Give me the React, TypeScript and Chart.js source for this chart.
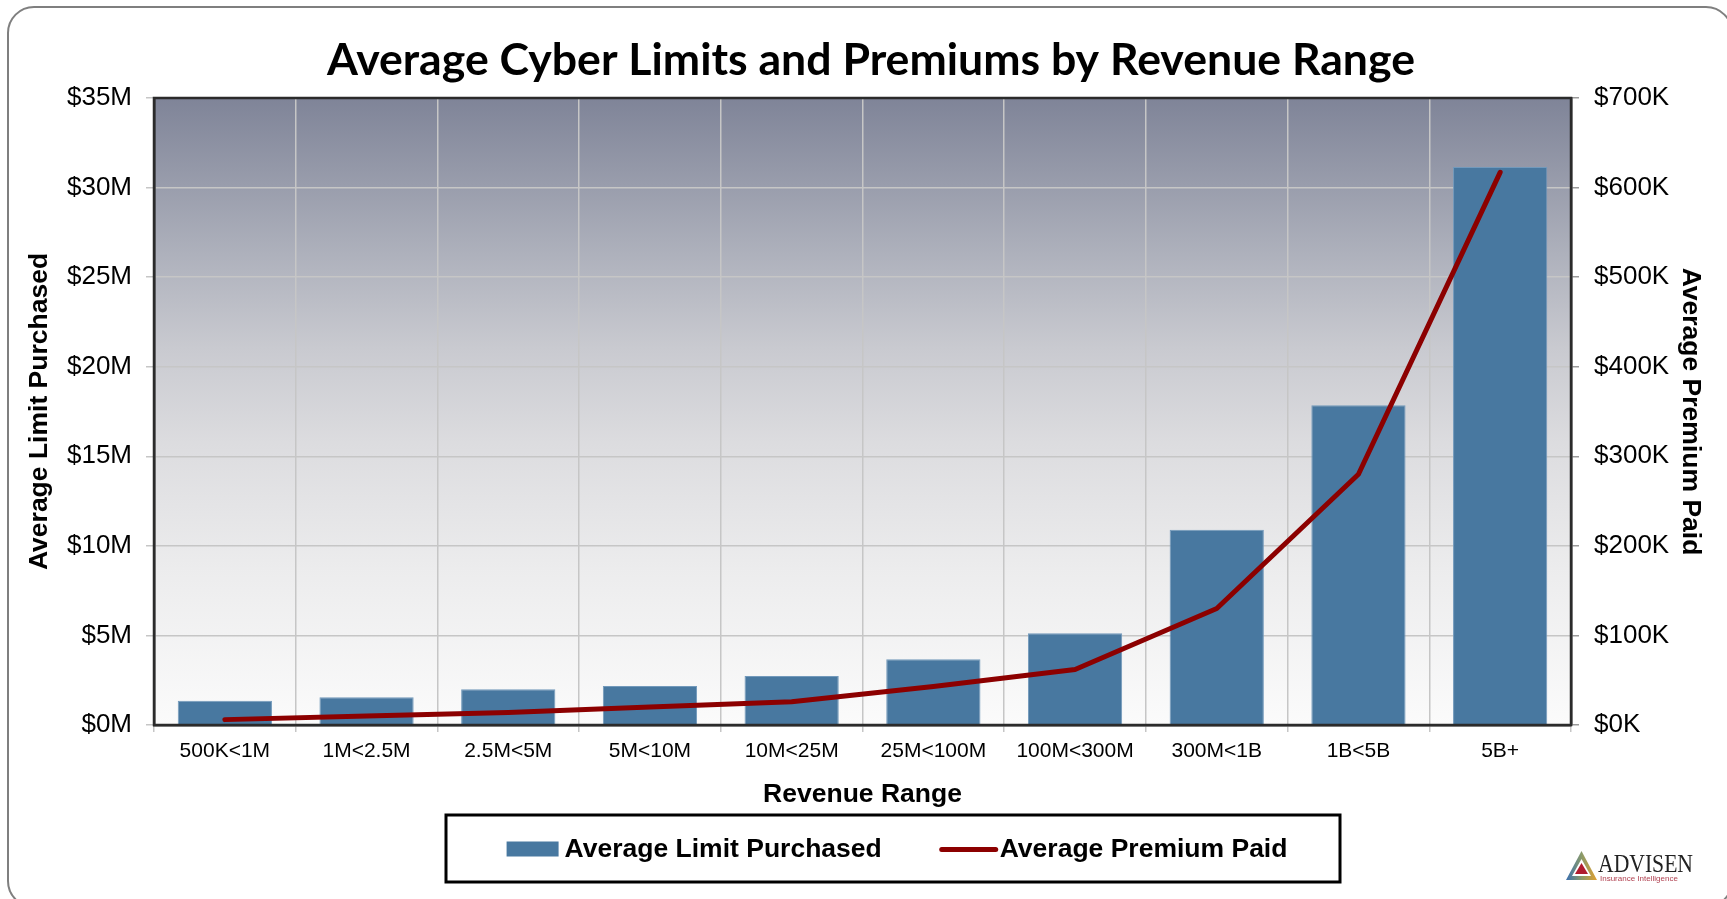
import React, { useEffect, useRef } from 'react';
import { Chart, registerables } from 'chart.js';

Chart.register(...registerables);

// ---- data ----
const categories = ['500K<1M', '1M<2.5M', '2.5M<5M', '5M<10M', '10M<25M', '25M<100M', '100M<300M', '300M<1B', '1B<5B', '5B+'];
const avgLimitMillions = [1.36, 1.55, 1.99, 2.18, 2.74, 3.67, 5.12, 10.9, 17.85, 31.15];
const avgPremiumThousands = [6, 10, 14, 20, 26, 43, 62, 130, 280, 617];
const chartTitle = 'Average Cyber Limits and Premiums by Revenue Range';
const leftAxisTitle = 'Average Limit Purchased';
const rightAxisTitle = 'Average Premium Paid';
const xAxisTitle = 'Revenue Range';
const seriesNames = ['Average Limit Purchased', 'Average Premium Paid'];
const logoName = 'ADVISEN';
const logoTag = 'Insurance Intelligence';

const W = 1727;
const H = 899;
const BAR_COLOR = '#4878a0';
const LINE_COLOR = '#8c0000';
const BOLD_FONT = '"Liberation Sans", Arial, sans-serif';

function roundRectPath(ctx: CanvasRenderingContext2D, x: number, y: number, w: number, h: number, r: number) {
  ctx.beginPath();
  ctx.moveTo(x + r, y);
  ctx.lineTo(x + w - r, y);
  ctx.arcTo(x + w, y, x + w, y + r, r);
  ctx.lineTo(x + w, y + h - r);
  ctx.arcTo(x + w, y + h, x + w - r, y + h, r);
  ctx.lineTo(x + r, y + h);
  ctx.arcTo(x, y + h, x, y + h - r, r);
  ctx.lineTo(x, y + r);
  ctx.arcTo(x, y, x + r, y, r);
  ctx.closePath();
}

const decorPlugin = {
  id: 'decor',
  beforeDraw(chart: any) {
    const { ctx, chartArea: a } = chart;
    ctx.save();
    ctx.fillStyle = '#ffffff';
    ctx.fillRect(0, 0, chart.width, chart.height);
    // outer rounded frame
    roundRectPath(ctx, 8, 7, 1724, 900, 26);
    ctx.lineWidth = 2;
    ctx.strokeStyle = '#7f7f7f';
    ctx.stroke();
    // plot gradient
    const g = ctx.createLinearGradient(0, a.top, 0, a.bottom);
    g.addColorStop(0, '#7f8498');
    g.addColorStop(0.25, '#aeb1bc');
    g.addColorStop(0.4, '#c9cad0');
    g.addColorStop(0.55, '#dcdcdf');
    g.addColorStop(0.75, '#ececed');
    g.addColorStop(1, '#fbfbfb');
    ctx.fillStyle = g;
    ctx.fillRect(a.left, a.top, a.right - a.left, a.bottom - a.top);
    ctx.restore();
  },
  afterDatasetsDraw(chart: any) {
    const { ctx, chartArea: a } = chart;
    ctx.save();
    ctx.lineWidth = 2.5;
    ctx.strokeStyle = '#2b2b2b';
    ctx.strokeRect(a.left, a.top, a.right - a.left, a.bottom - a.top);
    ctx.restore();
  },
  afterDraw(chart: any) {
    const { ctx } = chart;
    ctx.save();
    // title
    ctx.font = 'bold 100px Lato, "Open Sans", sans-serif';
    const tw = ctx.measureText(chartTitle).width;
    const size = (100 * 1088) / tw;
    ctx.font = `bold ${size.toFixed(2)}px Lato, "Open Sans", sans-serif`;
    ctx.fillStyle = '#000';
    ctx.textAlign = 'center';
    ctx.textBaseline = 'alphabetic';
    ctx.fillText(chartTitle, 871, 75);

    // legend
    const ds = chart.data.datasets;
    const barDs = ds.find((d: any) => d.type === 'bar');
    const lineDs = ds.find((d: any) => d.type === 'line');
    const bx = 446, by = 815, bw = 894, bh = 67;
    ctx.lineWidth = 3;
    ctx.strokeStyle = '#000';
    ctx.strokeRect(bx, by, bw, bh);
    ctx.font = `bold 26.5px ${BOLD_FONT}`;
    ctx.textAlign = 'left';
    ctx.textBaseline = 'middle';
    const cy = by + bh / 2 + 1;
    const t1 = ctx.measureText(barDs.label).width;
    const t2 = ctx.measureText(lineDs.label).width;
    const total = 52 + 6 + t1 + 58 + 58 + 2 + t2;
    let x = 897 - total / 2;
    ctx.fillStyle = barDs.backgroundColor;
    ctx.fillRect(x, cy - 8, 52, 15);
    x += 58;
    ctx.fillStyle = '#000';
    ctx.fillText(barDs.label, x, cy);
    x += t1 + 58;
    ctx.strokeStyle = lineDs.borderColor;
    ctx.lineWidth = 5;
    ctx.lineCap = 'round';
    ctx.beginPath();
    ctx.moveTo(x + 2, cy);
    ctx.lineTo(x + 56, cy);
    ctx.stroke();
    x += 60;
    ctx.fillStyle = '#000';
    ctx.fillText(lineDs.label, x, cy);

    // logo
    const lx = 1566, ly = 851;
    const tg = ctx.createLinearGradient(lx, 0, lx + 31, 0);
    tg.addColorStop(0, '#3a6fb0');
    tg.addColorStop(0.5, '#8a9a6a');
    tg.addColorStop(1, '#e0a030');
    ctx.fillStyle = tg;
    ctx.beginPath();
    ctx.moveTo(lx + 15.5, ly);
    ctx.lineTo(lx + 31, ly + 29);
    ctx.lineTo(lx, ly + 29);
    ctx.closePath();
    ctx.fill();
    ctx.fillStyle = '#ffffff';
    ctx.beginPath();
    ctx.moveTo(lx + 15.5, ly + 8);
    ctx.lineTo(lx + 25, ly + 25);
    ctx.lineTo(lx + 6, ly + 25);
    ctx.closePath();
    ctx.fill();
    ctx.fillStyle = '#b01c2e';
    ctx.beginPath();
    ctx.moveTo(lx + 15.5, ly + 12);
    ctx.lineTo(lx + 22, ly + 23);
    ctx.lineTo(lx + 9, ly + 23);
    ctx.closePath();
    ctx.fill();
    ctx.font = '26px "Liberation Serif", serif';
    const lw = ctx.measureText(logoName).width;
    ctx.textBaseline = 'alphabetic';
    ctx.fillStyle = '#222';
    ctx.save();
    ctx.translate(1598, 872);
    ctx.scale(95 / lw, 1);
    ctx.fillText(logoName, 0, 0);
    ctx.restore();
    ctx.font = '8px "Liberation Sans", sans-serif';
    ctx.fillStyle = '#b04050';
    ctx.fillText(logoTag, 1600, 881);
    ctx.restore();
  },
};

export default function App() {
  const canvasRef = useRef<HTMLCanvasElement | null>(null);

  useEffect(() => {
    const canvas = canvasRef.current;
    if (!canvas) return;
    const chart = new Chart(canvas, {
      type: 'bar',
      data: {
        labels: categories,
        datasets: [
          {
            type: 'bar',
            label: seriesNames[0],
            data: avgLimitMillions,
            yAxisID: 'y',
            backgroundColor: BAR_COLOR,
            borderColor: '#7299bb',
            borderWidth: 1,
            categoryPercentage: 1,
            barPercentage: 0.665,
            order: 1,
          } as any,
          {
            type: 'line',
            label: seriesNames[1],
            data: avgPremiumThousands,
            yAxisID: 'y1',
            borderColor: LINE_COLOR,
            backgroundColor: LINE_COLOR,
            borderWidth: 5,
            pointRadius: 0,
            tension: 0,
            borderCapStyle: 'round',
            borderJoinStyle: 'round',
            order: 0,
          } as any,
        ],
      },
      options: {
        responsive: false,
        animation: false,
        devicePixelRatio: 1,
        layout: { padding: { top: 98, left: 0, right: 0, bottom: 84 } },
        plugins: {
          legend: { display: false },
          title: { display: false },
          tooltip: { enabled: false },
        },
        scales: {
          x: {
            offset: true,
            grid: {
              offset: true,
              color: '#c6c6c6',
              lineWidth: 1.5,
              tickLength: 7,
              drawTicks: true,
            },
            border: { display: true, color: '#2b2b2b', width: 2.5 },
            ticks: {
              color: '#000',
              padding: 7,
              font: { family: '"Liberation Sans", Arial, sans-serif', size: 21 },
              maxRotation: 0,
              autoSkip: false,
            },
            title: {
              display: true,
              text: xAxisTitle,
              color: '#000',
              font: { family: BOLD_FONT, size: 26.5, weight: 'bold' },
              padding: { top: 0, bottom: 4 },
            },
            afterFit: (s: any) => {
              s.height = 90;
            },
          },
          y: {
            position: 'left',
            min: 0,
            max: 35,
            ticks: {
              stepSize: 5,
              color: '#000',
              padding: 14,
              font: { family: '"Liberation Sans", Arial, sans-serif', size: 26 },
              callback: (v: any) => `$${v}M`,
            },
            grid: { color: '#c6c6c6', lineWidth: 1.5, tickLength: 8 },
            border: { display: true, color: '#2b2b2b', width: 2.5 },
            title: {
              display: true,
              text: leftAxisTitle,
              color: '#000',
              font: { family: BOLD_FONT, size: 26.5, weight: 'bold' },
              padding: { top: 24, bottom: 0 },
            },
            afterFit: (s: any) => {
              s.width = 154;
            },
          },
          y1: {
            position: 'right',
            min: 0,
            max: 700,
            ticks: {
              stepSize: 100,
              color: '#000',
              padding: 15,
              font: { family: '"Liberation Sans", Arial, sans-serif', size: 26 },
              callback: (v: any) => `$${v}K`,
            },
            grid: { drawOnChartArea: false, color: '#9a9a9a', lineWidth: 1.5, tickLength: 8 },
            border: { display: true, color: '#2b2b2b', width: 2.5 },
            title: {
              display: true,
              text: rightAxisTitle,
              color: '#000',
              font: { family: BOLD_FONT, size: 26.5, weight: 'bold' },
              padding: { top: 21, bottom: 0 },
            },
            afterFit: (s: any) => {
              s.width = 156;
            },
          },
        },
      } as any,
      plugins: [decorPlugin],
    });
    return () => chart.destroy();
  }, []);

  return (
    <div style={{ position: 'fixed', left: 0, top: 0, width: W, height: H, background: '#fff' }}>
      <canvas ref={canvasRef} width={W} height={H} style={{ width: W, height: H, display: 'block' }} />
    </div>
  );
}
